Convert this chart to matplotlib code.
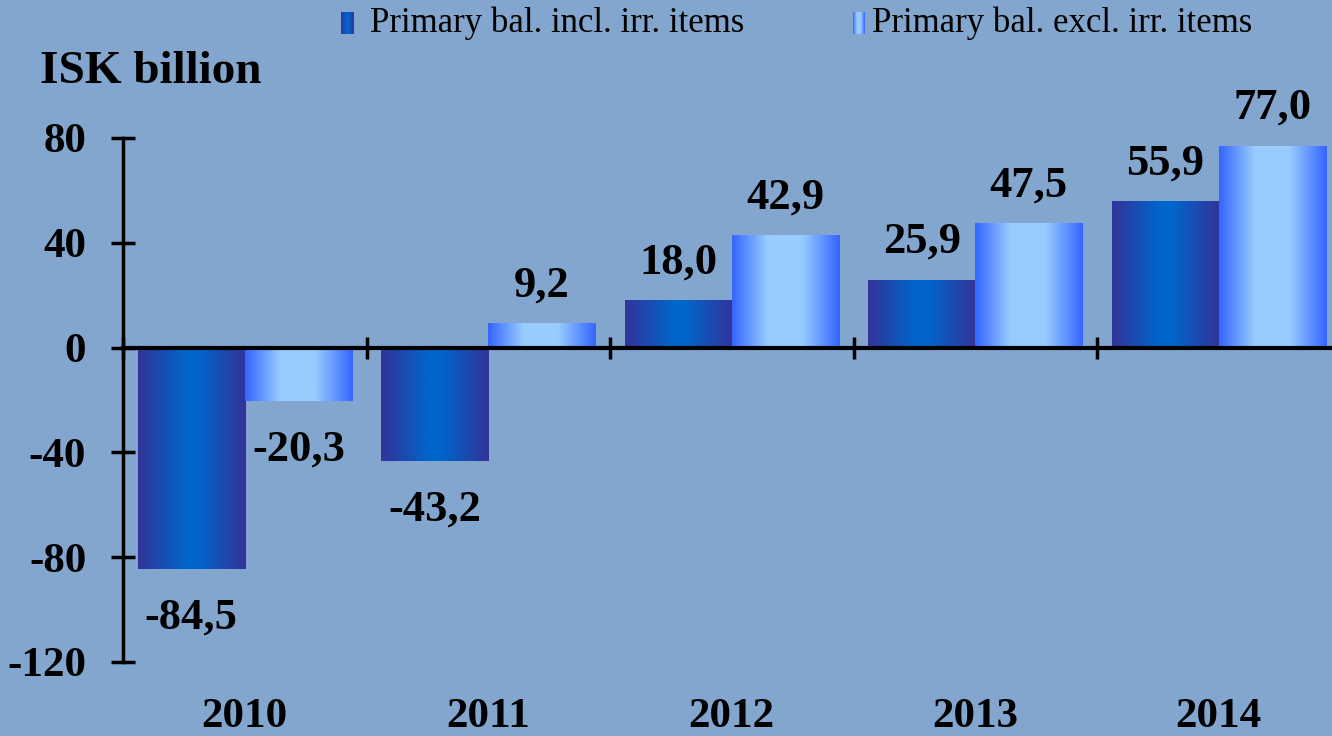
import matplotlib.pyplot as plt
import numpy as np
from matplotlib.colors import LinearSegmentedColormap

years = ["2010", "2011", "2012", "2013", "2014"]
incl_irr = [-84.5, -43.2, 18.0, 25.9, 55.9]
excl_irr = [-20.3, 9.2, 42.9, 47.5, 77.0]
series_names = ["Primary bal. incl. irr. items", "Primary bal. excl. irr. items"]
yticks = [-120, -80, -40, 0, 40, 80]

bg = "#82A6CE"
dark_cmap = LinearSegmentedColormap.from_list(
    "dark", [(0, "#333399"), (0.45, "#0066CC"), (0.55, "#0066CC"), (1, "#333399")])
light_cmap = LinearSegmentedColormap.from_list(
    "light", [(0, "#3366FF"), (0.33, "#99CCFF"), (0.65, "#99CCFF"), (1, "#3366FF")])
grad = np.linspace(0, 1, 256).reshape(1, -1)

plt.rcParams["font.family"] = ["Liberation Serif", "DejaVu Serif"]

W, H = 1332, 736
fig = plt.figure(figsize=(W / 100, H / 100), dpi=100, facecolor=bg)
ax = fig.add_axes([123 / W, (H - 662) / H, 1217.5 / W, (662 - 138) / H])
ax.set_facecolor(bg)

x = np.arange(len(years))
bw = 0.44


def gradient_bars(xpos, vals, cmap):
    bars = ax.bar(xpos, vals, bw, color="none", edgecolor="none")
    for b in bars:
        x0, y0 = b.get_x(), b.get_y()
        w, h = b.get_width(), b.get_height()
        ax.imshow(grad, cmap=cmap, aspect="auto", interpolation="bicubic",
                  extent=[x0, x0 + w, y0, y0 + h], zorder=2)
    return bars


b1 = gradient_bars(x - bw / 2, incl_irr, dark_cmap)
b2 = gradient_bars(x + bw / 2, excl_irr, light_cmap)
ax.set_xlim(-0.5, len(years) - 0.5)
ax.set_ylim(-120, 80)

for bars, vals in ((b1, incl_irr), (b2, excl_irr)):
    for b, v in zip(bars, vals):
        cx = b.get_x() + b.get_width() / 2
        lab = f"{v:.1f}".replace(".", ",")
        if v >= 0:
            ax.annotate(lab, (cx, v), xytext=(0, 18),
                        textcoords="offset pixels", ha="center", va="bottom",
                        fontsize=32, fontweight="bold", zorder=5)
        else:
            ax.annotate(lab, (cx, v), xytext=(0, -29),
                        textcoords="offset pixels", ha="center", va="top",
                        fontsize=32, fontweight="bold", zorder=5)

# spines
for s in ("top", "right"):
    ax.spines[s].set_visible(False)
ax.spines["left"].set_linewidth(2.5)
ax.spines["bottom"].set_position(("data", 0))
ax.spines["bottom"].set_linewidth(3)
ax.spines["bottom"].set_zorder(4)

ax.set_yticks(yticks)
ax.set_yticklabels([str(t) for t in yticks], fontsize=31, fontweight="bold")
ax.tick_params(axis="y", direction="inout", length=17, width=2.5, pad=18)

ax.set_xticks(np.arange(len(years) + 1) - 0.5)
ax.set_xticklabels([])
ax.tick_params(axis="x", direction="inout", length=16, width=2.5)

for i, yr in enumerate(years):
    ax.text(i, -141, yr, ha="center", va="center",
            fontsize=31, fontweight="bold")

fig.text(40 / W, 1 - 72 / H, "ISK billion", fontsize=34, fontweight="bold",
         ha="left", va="center")

# legend
legend_items = [(341, 370, dark_cmap, series_names[0]),
                (853, 872, light_cmap, series_names[1])]
for sx, tx, cmap, name in legend_items:
    lax = fig.add_axes([sx / W, 1 - 34 / H, 12 / W, 22 / H])
    lax.imshow(grad, cmap=cmap, aspect="auto")
    lax.axis("off")
    fig.text(tx / W, 1 - 23 / H, name, fontsize=25, ha="left", va="center")

fig.savefig("out.png", dpi=100, facecolor=bg)
